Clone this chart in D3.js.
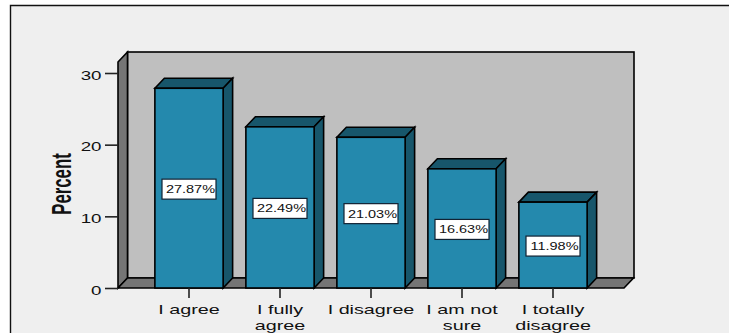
<!DOCTYPE html>
<html>
<head>
<meta charset="utf-8">
<script src="https://cdn.jsdelivr.net/npm/d3@7/dist/d3.min.js"></script>
<style>
  html, body { margin: 0; padding: 0; background: #fff; }
  svg { display: block; }
  text { font-family: "Liberation Sans", Arial, sans-serif; fill: #111; }
</style>
</head>
<body>
<svg id="chart" width="729" height="333"></svg>
<script>
// Survey responses, in percent
const categories = [["I agree"], ["I fully", "agree"], ["I disagree"], ["I am not", "sure"], ["I totally", "disagree"]];
const percents = [27.87, 22.49, 21.03, 16.63, 11.98];
const yTicks = [0, 10, 20, 30];

const FRONT = "#2489ad", SHADE = "#17566b", WALL = "#bfbfbf", SIDE = "#757575", PANEL = "#efefef";
const dx = 9.5, dy = -10;               // oblique depth offset
const boxLeft = 118, boxRight = 624, boxBase = 288, boxTop = 62;

const svg = d3.select("#chart");
const y = d3.scaleLinear().domain([0, 30]).range([boxBase, 73]);
const x = d3.scaleBand().domain(d3.range(categories.length))
  .range([143.5, 598.5]).paddingInner(0.25).paddingOuter(0.125);

const poly = pts => pts.map(p => p.join(",")).join(" ");
const stroke = sel => sel.attr("stroke", "#000").attr("stroke-width", 1.6).attr("stroke-linejoin", "miter");

// Panel with its frame open towards the right and bottom edges
svg.append("rect").attr("x", 11).attr("y", 6).attr("width", 718).attr("height", 327).attr("fill", PANEL);
svg.append("path").attr("d", "M10.5,333V5.5H729").attr("fill", "none").attr("stroke", "#111").attr("stroke-width", 1.4);

// Box: back wall, side wall, floor
svg.append("rect").attr("x", boxLeft + dx).attr("y", boxTop + dy)
  .attr("width", boxRight - boxLeft + 0.5).attr("height", boxBase - boxTop)
  .attr("fill", WALL).call(stroke);
svg.append("polygon")
  .attr("points", poly([[boxLeft, boxTop], [boxLeft + dx, boxTop + dy], [boxLeft + dx, boxBase + dy], [boxLeft, boxBase]]))
  .attr("fill", SIDE).call(stroke);
svg.append("polygon")
  .attr("points", poly([[boxLeft, boxBase], [boxLeft + dx, boxBase + dy], [boxRight + dx, boxBase + dy], [boxRight, boxBase]]))
  .attr("fill", SIDE).call(stroke);

// Y axis
const yAxis = svg.append("g").attr("transform", `translate(${boxLeft},0)`)
  .call(d3.axisLeft(y).tickValues(yTicks).tickSize(13).tickFormat(d3.format("d")));
yAxis.select(".domain").remove();
yAxis.selectAll("line").attr("stroke", "#222").attr("stroke-width", 1.6);
yAxis.selectAll("text")
  .attr("font-size", 12.5).attr("x", 0).attr("dy", 0).attr("y", 0)
  .attr("text-anchor", "end")
  .attr("transform", "translate(-16.5,6) scale(1.5,1)");

// Bars
const bars = svg.append("g").selectAll("g").data(percents).join("g");
const w = x.bandwidth();
bars.append("polygon")
  .attr("points", (d, i) => {
    const a = x(i), t = y(d);
    return poly([[a, t], [a + dx, t + dy], [a + w + dx, t + dy], [a + w, t]]);
  })
  .attr("fill", SHADE).call(stroke);
bars.append("polygon")
  .attr("points", (d, i) => {
    const b = x(i) + w, t = y(d);
    return poly([[b, t], [b + dx, t + dy], [b + dx, boxBase + dy], [b, boxBase]]);
  })
  .attr("fill", SHADE).call(stroke);
bars.append("rect")
  .attr("x", (d, i) => x(i)).attr("y", d => y(d))
  .attr("width", w).attr("height", d => boxBase - y(d))
  .attr("fill", FRONT).call(stroke);

// Value boxes at mid-height of each bar
const tags = bars.append("g")
  .attr("transform", (d, i) => `translate(${x(i) + w / 2},${(y(d) + boxBase) / 2 + 1})`);
tags.append("rect").attr("x", -27).attr("y", -10).attr("width", 54).attr("height", 20)
  .attr("fill", "#fff").attr("stroke", "#123").attr("stroke-width", 1.2);
tags.append("text")
  .attr("text-anchor", "middle").attr("font-size", 10.5)
  .attr("transform", "translate(1.5,4) scale(1.38,1)")
  .text(d => d.toFixed(2) + "%");

// Category ticks and wrapped labels
const cats = svg.append("g").selectAll("g").data(categories).join("g")
  .attr("transform", (d, i) => `translate(${x(i) + w / 2},${boxBase})`);
cats.append("line").attr("y1", 0).attr("y2", 10).attr("stroke", "#222").attr("stroke-width", 1.6);
cats.each(function (lines) {
  d3.select(this).selectAll("text").data(lines).join("text")
    .attr("text-anchor", "middle").attr("font-size", 12.5)
    .attr("transform", (d, i) => `translate(0,${26 + i * 16}) scale(1.58,1)`)
    .text(d => d);
});

// Y axis title
svg.append("text")
  .attr("text-anchor", "middle").attr("font-size", 28).attr("font-weight", "bold")
  .attr("transform", "translate(71,184) rotate(-90) scale(0.6,1)")
  .text("Percent");
</script>
</body>
</html>
